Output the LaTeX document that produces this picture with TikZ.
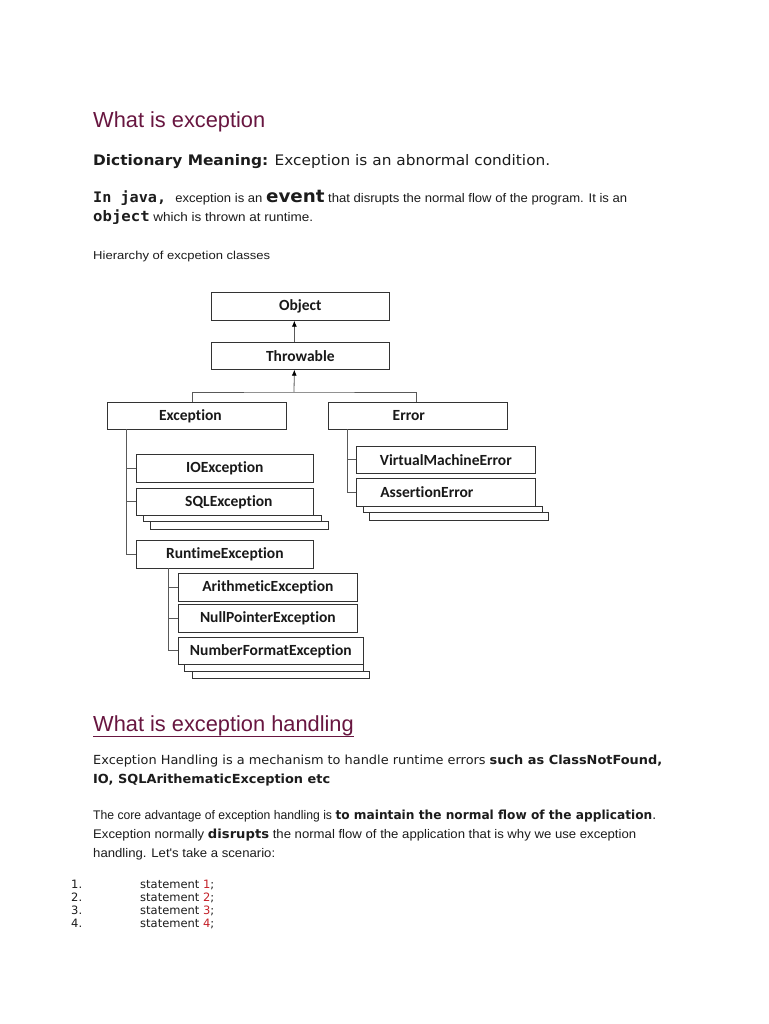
\documentclass[tikz,border=0pt]{standalone}
\usepackage{fontspec}
\usepackage{graphicx}
\setmainfont{DejaVu Sans}
\newfontfamily\arialf{Liberation Sans}
\newfontfamily\calf[Ligatures=NoCommon]{Carlito}
\newfontfamily\monof{DejaVu Sans Mono}
\usetikzlibrary{arrows.meta}
\definecolor{ttl}{RGB}{104,22,64}
\definecolor{numred}{RGB}{196,32,40}
\definecolor{ink}{RGB}{28,28,28}
\newcommand{\fitw}[2]{\resizebox{#1}{\height}{#2}}
\begin{document}
\begin{tikzpicture}[x=1pt,y=-1pt,
  txt/.style={anchor=base west, inner sep=0pt, text=ink},
  ttlstyle/.style={txt, font=\arialf\fontsize{21.8}{26}\selectfont, text=ttl},
  cls/.style={draw=black!80, line width=0.7pt, fill=white, inner sep=0pt, anchor=north west,
    font=\calf\bfseries\fontsize{15.5}{18}\selectfont, text=black!90},
  stk/.style={draw=black!80, line width=0.7pt, fill=white},
  conn/.style={draw=black!65, line width=0.8pt},
  arr/.style={conn, -{Latex[length=6pt,width=5pt,fill=black,color=black]}},
  lst/.style={txt, font=\fontsize{11.5}{14}\selectfont}]
\useasboundingbox[fill=white] (0,0) rectangle (768,1024);

% ---------- top text ----------
\node[ttlstyle] (h1) at (93,128) {What is exception};
\node[txt] (dict) at (93,166) {\fitw{457pt}{\fontsize{14.5}{17}\selectfont\textbf{Dictionary Meaning:} Exception is an abnormal condition.}};
\node[txt] (java) at (93,203) {\fitw{534pt}{{\monof\bfseries\fontsize{14.5}{17}\selectfont In java, }{\arialf\fontsize{12.5}{15}\selectfont exception is an }{\bfseries\fontsize{17.5}{20}\selectfont event}{\arialf\fontsize{12.5}{15}\selectfont{} that disrupts the normal flow of the program. It is an}}};
\node[txt] (obj2) at (93,222) {\fitw{220pt}{{\monof\bfseries\fontsize{14.5}{17}\selectfont object}{\arialf\fontsize{12.5}{15}\selectfont{} which is thrown at runtime.}}};
\node[txt] (hier) at (93,259) {\fitw{177pt}{\arialf\fontsize{11.5}{14}\selectfont Hierarchy of excpetion classes}};

% ---------- hierarchy diagram ----------
\node[cls, minimum width=178pt, minimum height=28pt] (obj) at (211,292) {Object};
\node[cls, minimum width=178pt, minimum height=27pt] (thr) at (211,342) {Throwable};
\node[cls, minimum width=179pt, minimum height=27pt] (exc) at (107,402) {Exception\kern13pt};
\node[cls, minimum width=179pt, minimum height=27pt] (err) at (328,402) {Error\kern18pt};

\node[cls, minimum width=177pt, minimum height=28pt] (io) at (136,454) {IOException};
\draw[stk] (150,521) rectangle (328,529);
\draw[stk] (143,515) rectangle (321,521);
\node[cls, minimum width=177pt, minimum height=27pt] (sql) at (136,488) {\kern8pt SQLException};
\node[cls, minimum width=177pt, minimum height=28pt] (rt) at (136,540) {RuntimeException};

\node[cls, minimum width=179pt, minimum height=27pt] (vme) at (356,446) {VirtualMachineError};
\draw[stk] (369,512) rectangle (548,520);
\draw[stk] (363,506) rectangle (542,512);
\node[cls, minimum width=179pt, minimum height=28pt] (ae) at (356,478) {AssertionError\kern38pt};

\node[cls, minimum width=179pt, minimum height=28pt] (ari) at (178,573) {ArithmeticException};
\node[cls, minimum width=179pt, minimum height=28pt] (npe) at (178,604) {NullPointerException};
\draw[stk] (192,671) rectangle (369,678);
\draw[stk] (184,664) rectangle (363,671);
\node[cls, minimum width=185pt, minimum height=27pt] (nfe) at (178,637) {NumberFormatException};

% connectors
\coordinate (j) at (294,392);
\draw[arr] ([xshift=-6pt]thr.north) -- ([xshift=-6pt]obj.south);
\draw[arr] (j) -- ([xshift=-6pt]thr.south);
\draw[conn] ([xshift=-4.5pt]exc.north) |- (j) -| ([xshift=-1.5pt]err.north);
\coordinate (exT) at (126,429);
\draw[conn] (exT) |- (io.west);
\draw[conn] (exT) |- (sql.west);
\draw[conn] (exT) |- (rt.west);
\coordinate (erT) at (347,429);
\draw[conn] (erT) |- (vme.west);
\draw[conn] (erT) |- (ae.west);
\coordinate (rtT) at (168,568);
\draw[conn] (rtT) |- (ari.west);
\draw[conn] (rtT) |- (npe.west);
\draw[conn] (rtT) |- (nfe.west);

% ---------- lower text ----------
\node[ttlstyle] (h2) at (93,731) {What is exception handling};
\draw[ttl, line width=0.9pt] ([yshift=-5.5pt]h2.base west) -- ([yshift=-5.5pt]h2.base east);
\node[txt] (p1a) at (93,764) {\fitw{569pt}{\fontsize{12.5}{15}\selectfont Exception Handling is a mechanism to handle runtime errors \textbf{such as ClassNotFound,}}};
\node[txt] (p1b) at (93,783) {\fitw{237pt}{\fontsize{12.5}{15}\selectfont\textbf{IO, SQLArithematicException etc}}};
\node[txt] (p2) at (93,819) {\fitw{563pt}{\fontsize{12.5}{15}\selectfont{\arialf The core advantage of exception handling is }\textbf{to maintain the normal flow of the application}.}};
\node[txt] (p3) at (93,838) {\fitw{543pt}{\fontsize{12.5}{15}\selectfont{\arialf Exception normally }\textbf{disrupts}{\arialf{} the normal flow of the application that is why we use exception}}};
\node[txt] (p4) at (93,857) {\fitw{182pt}{\arialf\fontsize{12.5}{15}\selectfont handling. Let's take a scenario:}};

\node[lst] (n1) at (71,888) {1.};
\node[lst] (n2) at (71,901) {2.};
\node[lst] (n3) at (71,914) {3.};
\node[lst] (n4) at (71,927) {4.};
\node[lst] (s1) at (140,888) {statement \textcolor{numred}{1};};
\node[lst] (s2) at (140,901) {statement \textcolor{numred}{2};};
\node[lst] (s3) at (140,914) {statement \textcolor{numred}{3};};
\node[lst] (s4) at (140,927) {statement \textcolor{numred}{4};};
\end{tikzpicture}
\end{document}
